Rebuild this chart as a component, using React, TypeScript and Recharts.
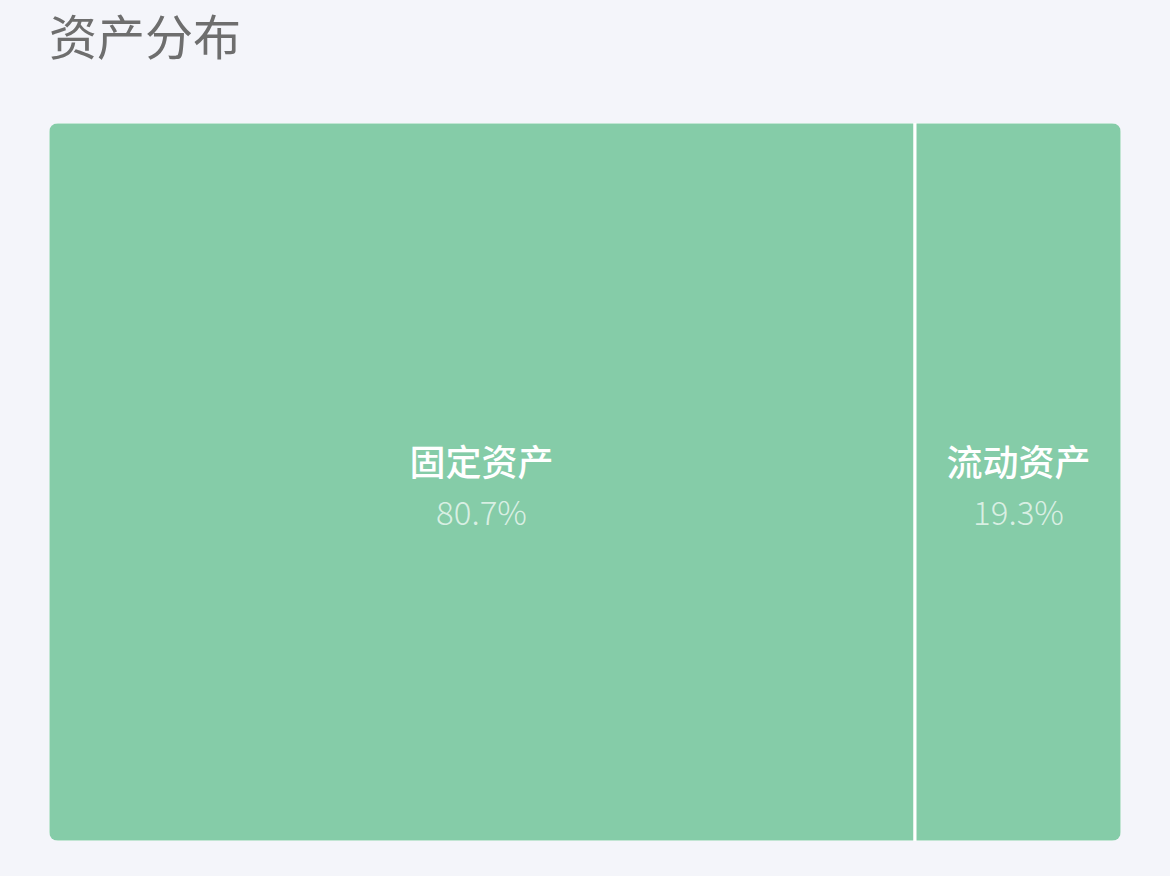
import React from "react";
import { Treemap } from "recharts";

const names = ["固定资产", "流动资产"];
const shares = [80.7, 19.3];

const data = names.map((name, i) => ({ name, value: shares[i] }));

const GREEN = "#85cca8";

function Cell(props: any) {
  const { depth, x, y, width, height, name, value } = props;
  if (depth !== 1) return null;
  const cx = x + width / 2;
  const cy = y + height / 2;
  return (
    <g>
      <rect x={x} y={y} width={width} height={height} fill={GREEN} stroke="#ffffff" strokeWidth={3} />
      <text
        x={cx}
        y={cy - 22}
        textAnchor="middle"
        dominantBaseline="central"
        fill="#ffffff"
        fontSize={36}
        fontWeight={500}
        fontFamily='"Noto Sans CJK SC", sans-serif'
      >
        {name}
      </text>
      <text
        x={cx}
        y={cy + 29}
        textAnchor="middle"
        dominantBaseline="central"
        fill="rgba(255,255,255,0.7)"
        fontSize={33}
        fontWeight={300}
        fontFamily='"Noto Sans CJK SC", sans-serif'
      >
        {value.toFixed(1)}%
      </text>
    </g>
  );
}

export default function App() {
  return (
    <div
      style={{
        position: "fixed",
        left: 0,
        top: 0,
        width: 1170,
        height: 876,
        background: "#f4f5fa",
        fontFamily: '"Noto Sans CJK SC", sans-serif',
      }}
    >
      <div
        style={{
          position: "absolute",
          left: 49,
          top: 10,
          fontSize: 48,
          lineHeight: 1,
          fontWeight: 400,
          color: "#6e6e6e",
        }}
      >
        资产分布
      </div>
      <div
        style={{
          position: "absolute",
          left: 49,
          top: 123,
          width: 1072,
          height: 718,
          borderRadius: 9,
          overflow: "hidden",
        }}
      >
        <div style={{ marginLeft: -1, marginTop: -1 }}>
          <Treemap
            width={1074}
            height={720}
            data={data}
            dataKey="value"
            content={<Cell />}
            isAnimationActive={false}
          />
        </div>
      </div>
    </div>
  );
}
